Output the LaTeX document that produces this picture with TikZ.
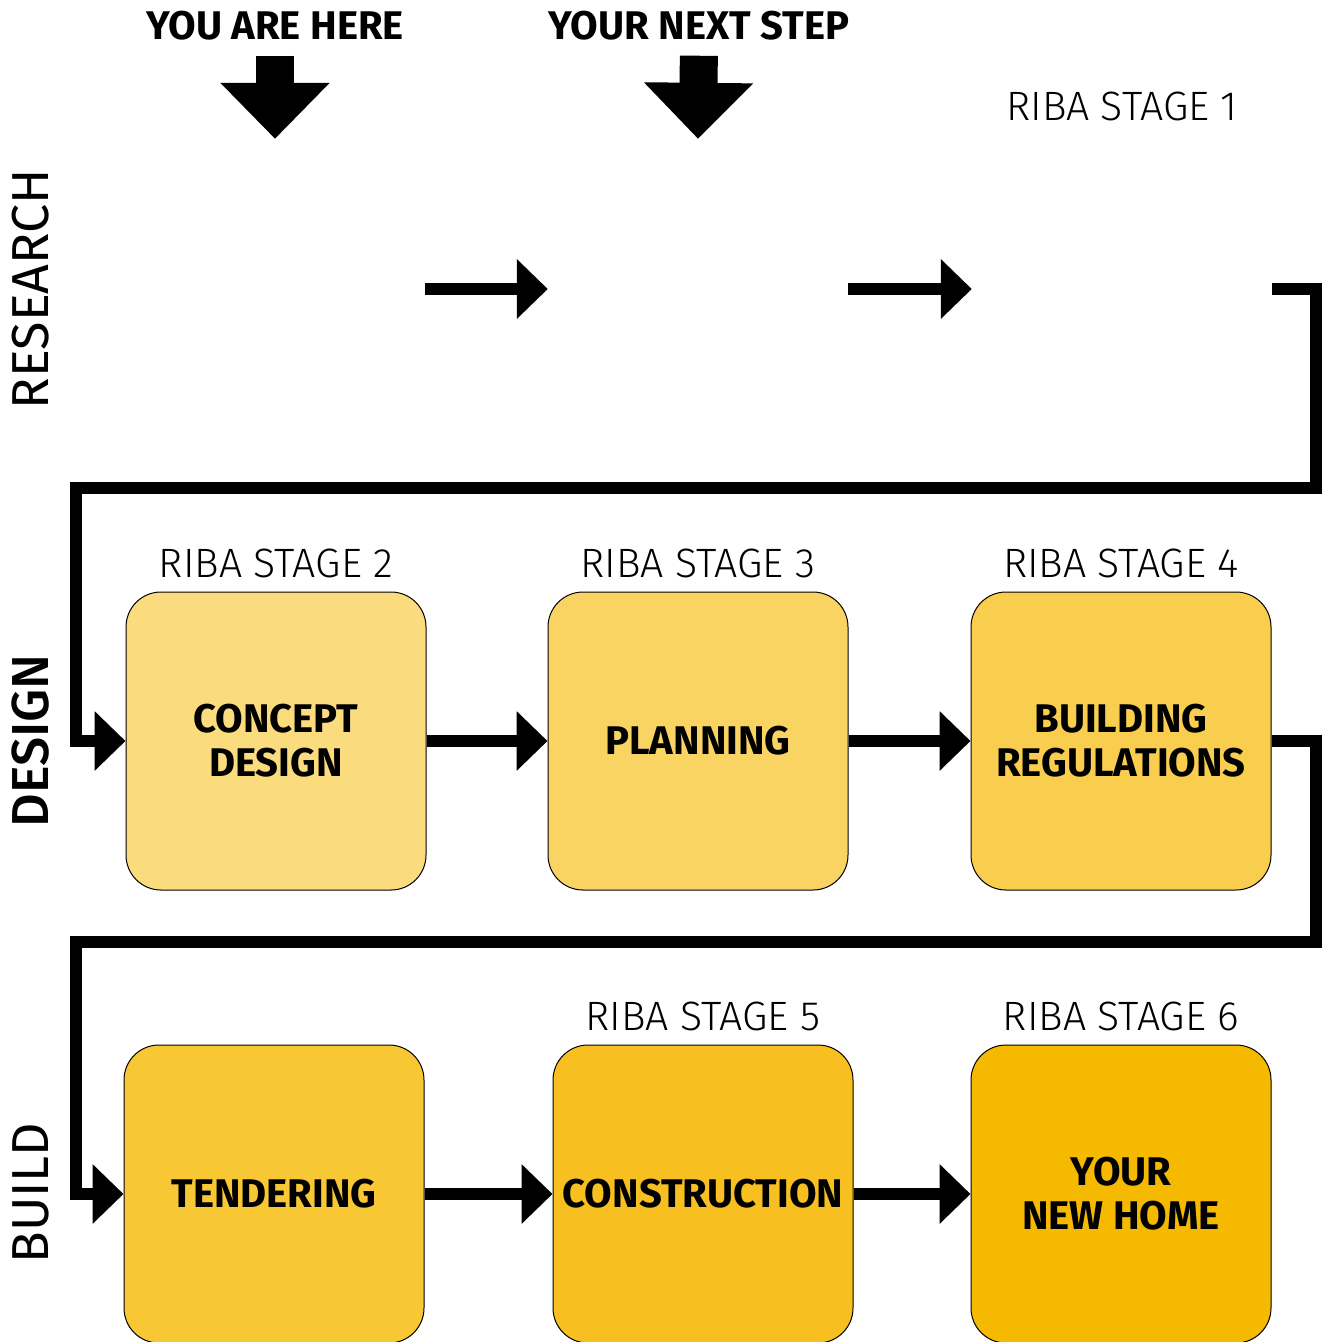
\documentclass[tikz,border=0pt]{standalone}
\usepackage{fontspec}
\newfontfamily\ribalight{Fira Sans Light}
\newfontfamily\ribabold{Fira Sans Bold}
\newfontfamily\ribamed{Fira Sans Medium}
\newfontfamily\ribareg{Fira Sans}
\usetikzlibrary{arrows.meta,positioning}
\definecolor{stageA}{HTML}{FADB7D}
\definecolor{stageB}{HTML}{F9D462}
\definecolor{stageC}{HTML}{F9CE4E}
\definecolor{stageD}{HTML}{F8C834}
\definecolor{stageE}{HTML}{F7C020}
\definecolor{stageF}{HTML}{F5B900}
\tikzset{
  stagebox/.style={draw=black, line width=1pt, rounded corners=35pt, minimum width=300pt,
    minimum height=298pt, align=center, font=\fontsize{40}{44}\ribabold},
  ghostbox/.style={minimum width=300pt, minimum height=300pt},
  stagelabel/.style={inner sep=0pt, font=\fontsize{41}{48}\ribalight},
  youlabel/.style={inner sep=0pt, font=\fontsize{40}{46}\ribabold},
  phase/.style={rotate=90, inner sep=0pt, font=\fontsize{52}{58}\ribareg},
  flow/.style={line width=12pt, -{Triangle[length=31pt,width=58pt]}},
  drop/.style={line width=38pt, shorten <=15pt, -{Triangle[length=56pt,width=106pt]}}
}
\begin{document}
\begin{tikzpicture}[x=1pt,y=-1pt]
    \useasboundingbox (0,0) rectangle (1325,1342);

    \node[ghostbox] (r1) at (275,289) {};
    \node[ghostbox] (r2) at (698,289) {};
    \node[ghostbox] (r3) at (1122,289) {};
    \node[stagebox, fill=stageA] (d1) at (276,741) {CONCEPT\\DESIGN};
    \node[stagebox, fill=stageB] (d2) at (698,741) {PLANNING};
    \node[stagebox, fill=stageC] (d3) at (1121,741) {BUILDING\\REGULATIONS};
    \node[stagebox, fill=stageD] (b1) at (274,1194) {TENDERING};
    \node[stagebox, fill=stageE] (b2) at (703,1194) {CONSTRUCTION};
    \node[stagebox, fill=stageF] (b3) at (1121,1194) {YOUR\\NEW HOME};

    \node[youlabel] (h1) at (275,26) {YOU ARE HERE};
    \node[youlabel] (h2) at (699,26) {YOUR NEXT STEP};
    \node[stagelabel, above=18pt of r3] {RIBA STAGE 1};
    \node[stagelabel, above=13pt of d1] {RIBA STAGE 2};
    \node[stagelabel, above=13pt of d2] {RIBA STAGE 3};
    \node[stagelabel, above=13pt of d3] {RIBA STAGE 4};
    \node[stagelabel, above=13pt of b2] {RIBA STAGE 5};
    \node[stagelabel, above=13pt of b3] {RIBA STAGE 6};
    \node[phase] (p1) at (31,289) {RESEARCH};
    \node[phase, font=\fontsize{52}{58}\ribamed] (p2) at (31,741) {DESIGN};
    \node[phase] (p3) at (31,1193) {BUILD};

    \coordinate (k1) at (1316,488);
    \coordinate (k2) at (76,741);
    \coordinate (k3) at (1316,942);
    \coordinate (k4) at (76,1194);

    \draw[drop] (h1.south) -- (r1.north);
    \draw[drop] (h2.south) -- (r2.north);
    \draw[flow] (r1.east) -- (r2.west);
    \draw[flow] (r2.east) -- (r3.west);
    \draw[flow] (r3.east) -| (k1) -| (k2) -- (d1.west);
    \draw[flow] (d1.east) -- (d2.west);
    \draw[flow] (d2.east) -- (d3.west);
    \draw[flow] (d3.east) -| (k3) -| (k4) -- (b1.west);
    \draw[flow] (b1.east) -- (b2.west);
    \draw[flow] (b2.east) -- (b3.west);
\end{tikzpicture}
\end{document}
